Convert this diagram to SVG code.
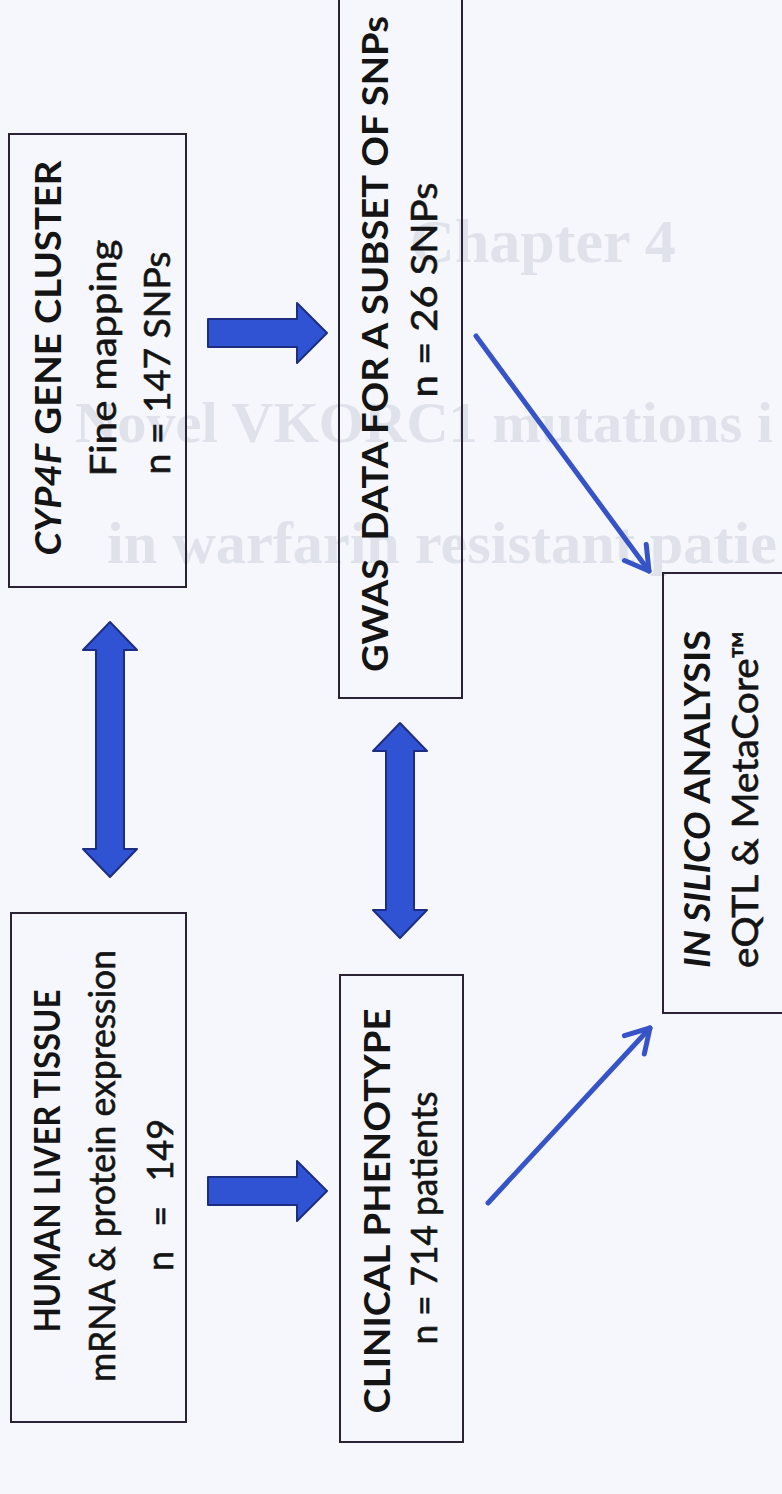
<svg xmlns="http://www.w3.org/2000/svg" width="782" height="1494" viewBox="0 0 782 1494">
<defs>
<style>
.bg{fill:#f5f7fc}
.ghost{font-family:"Liberation Serif",serif;font-weight:bold;fill:#dfe2ea}
.bx{fill:none;stroke:#2b2236;stroke-width:2}
.t{font-family:Lato,"Liberation Sans",sans-serif;font-size:36px;fill:#141414}
.r{stroke:#141414;stroke-width:0.6}
.b{font-weight:bold}
.i{font-style:italic}
.blk{fill:#2f53d2;stroke:#1d2d82;stroke-width:2;stroke-linejoin:round}
.ln{stroke:#3654c8;stroke-width:5;fill:none;stroke-linecap:round}
</style>
<marker id="ah" viewBox="-30 -18 34 36" refX="0" refY="0" markerWidth="34" markerHeight="36" markerUnits="userSpaceOnUse" orient="auto">
<path d="M-23,-13.5 L0,0 L-23,13.5" fill="none" stroke="#3654c8" stroke-width="5" stroke-linecap="round" stroke-linejoin="round"/>
</marker>
</defs>
<rect class="bg" x="0" y="0" width="782" height="1494"/>
<g id="ghost-text">
<text class="ghost" x="410" y="262" font-size="62">Chapter 4</text>
<text class="ghost" x="75" y="442" font-size="58" textLength="698" lengthAdjust="spacingAndGlyphs">Novel VKORC1 mutations i</text>
<text class="ghost" x="107" y="563" font-size="60" textLength="670" lengthAdjust="spacingAndGlyphs">in warfarin resistant patie</text>
</g>
<g id="connectors">
<path class="blk" d="M110,622 L137,650 L124,650 L124,849 L137,849 L110,877 L83,849 L96,849 L96,650 L83,650 Z"/>
<path class="blk" d="M400,723 L427,751 L414,751 L414,910 L427,910 L400,938 L373,910 L386,910 L386,751 L373,751 Z"/>
<path class="blk" d="M208,319 L297,319 L297,303 L327,333 L297,363 L297,347 L208,347 Z"/>
<path class="blk" d="M208,1177 L297,1177 L297,1161 L327,1191 L297,1221 L297,1205 L208,1205 Z"/>
<line class="ln" x1="476" y1="336" x2="649" y2="571" marker-end="url(#ah)"/>
<line class="ln" x1="488" y1="1203" x2="650" y2="1028" marker-end="url(#ah)"/>
</g>
<g id="node-liver">
<rect class="bx" x="11" y="913" width="175" height="509"/>
<text class="t b" transform="translate(60,1161) rotate(-90)" text-anchor="middle" textLength="343" lengthAdjust="spacingAndGlyphs">HUMAN LIVER TISSUE</text>
<text class="t r" transform="translate(115,1166) rotate(-90)" text-anchor="middle" textLength="432" lengthAdjust="spacingAndGlyphs">mRNA &amp; protein expression</text>
<text class="t r" transform="translate(173,1195) rotate(-90)" text-anchor="middle" font-size="41" style="word-spacing:15px">n = 149</text>
</g>
<g id="node-cyp4f">
<rect class="bx" x="9" y="134" width="177" height="453"/>
<text class="t b" transform="translate(61,358) rotate(-90)" text-anchor="middle" textLength="395" lengthAdjust="spacingAndGlyphs"><tspan class="i">CYP4F</tspan> GENE CLUSTER</text>
<text class="t r" transform="translate(116,358) rotate(-90)" text-anchor="middle" textLength="237" lengthAdjust="spacingAndGlyphs">Fine mapping</text>
<text class="t r" transform="translate(170,363) rotate(-90)" text-anchor="middle" textLength="223" lengthAdjust="spacingAndGlyphs">n = 147 SNPs</text>
</g>
<g id="node-clinical">
<rect class="bx" x="340" y="975" width="123" height="467"/>
<text class="t b" transform="translate(390,1211) rotate(-90)" text-anchor="middle" textLength="405" lengthAdjust="spacingAndGlyphs">CLINICAL PHENOTYPE</text>
<text class="t r" transform="translate(437,1218) rotate(-90)" text-anchor="middle" textLength="253" lengthAdjust="spacingAndGlyphs">n = 714 patients</text>
</g>
<g id="node-gwas">
<rect class="bx" x="339" y="-10" width="123" height="708"/>
<text class="t b" transform="translate(388,344) rotate(-90)" text-anchor="middle" textLength="656" lengthAdjust="spacingAndGlyphs" xml:space="preserve">GWAS  DATA FOR A SUBSET OF SNPs</text>
<text class="t r" transform="translate(437,290) rotate(-90)" text-anchor="middle" textLength="215" lengthAdjust="spacingAndGlyphs">n = 26 SNPs</text>
</g>
<g id="node-insilico">
<rect class="bx" x="663" y="573" width="140" height="440"/>
<text class="t b" transform="translate(710,799) rotate(-90)" text-anchor="middle" textLength="338" lengthAdjust="spacingAndGlyphs"><tspan class="i">IN SILICO</tspan> ANALYSIS</text>
<text class="t r" transform="translate(758,799) rotate(-90)" text-anchor="middle" textLength="338" lengthAdjust="spacingAndGlyphs">eQTL &amp; MetaCore™</text>
</g>
</svg>
